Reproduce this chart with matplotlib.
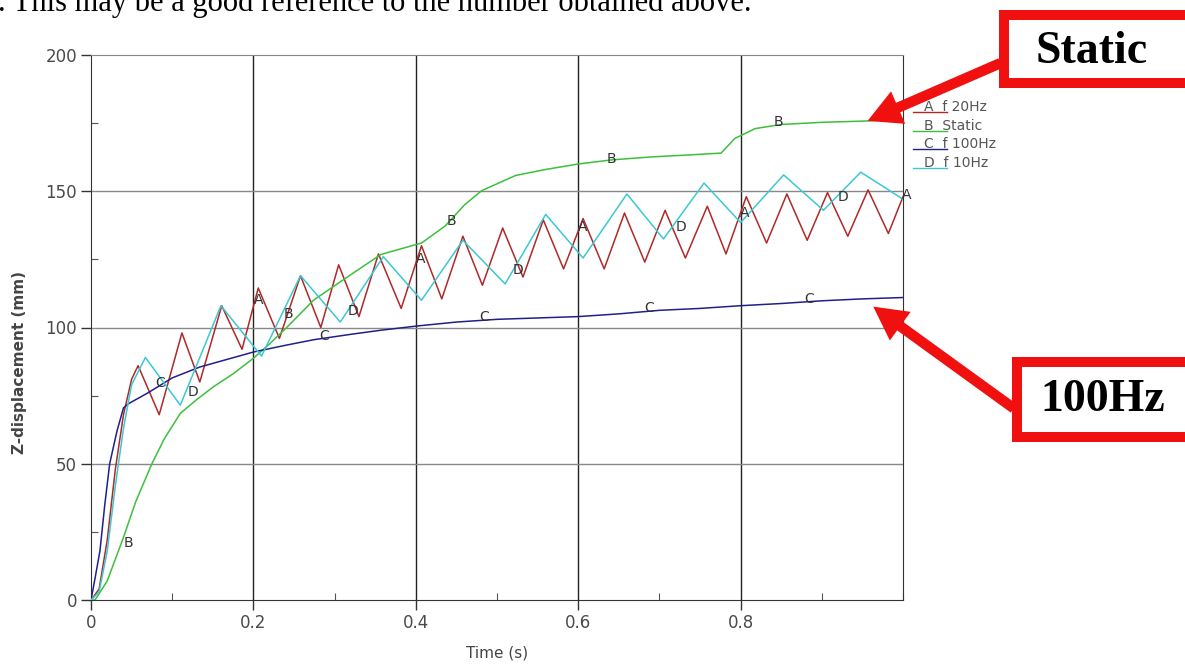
import matplotlib
matplotlib.use("Agg")
import matplotlib.pyplot as plt
from matplotlib.patches import Rectangle, FancyArrowPatch
from matplotlib.lines import Line2D
from matplotlib.ticker import MultipleLocator

# -----------------------------
# Data: Z-displacement (mm) vs time (s)
# -----------------------------
# A: f 20Hz
t_a = [0, 0.01, 0.02, 0.03, 0.04, 0.05, 0.058, 0.084, 0.112, 0.134, 0.161, 0.186,
       0.206, 0.232, 0.258, 0.283, 0.305, 0.33, 0.354, 0.382, 0.407, 0.432, 0.458,
       0.482, 0.507, 0.532, 0.557, 0.582, 0.606, 0.632, 0.657, 0.682, 0.707, 0.732,
       0.759, 0.782, 0.807, 0.832, 0.857, 0.882, 0.907, 0.932, 0.957, 0.982, 1.0]
z_a = [0, 4, 22, 48, 68, 81, 86, 68, 98, 80, 108, 92,
       114.5, 96, 119, 100, 123, 104, 127, 107, 130, 110.5, 133.5,
       115.5, 136.5, 118.5, 139.5, 121.5, 140, 121.5, 142, 124, 143, 125.5,
       144.5, 127, 148, 131, 149, 132, 149.5, 133.5, 150.5, 134.5, 148]

# B: Static
t_b = [0, 0.005, 0.02, 0.04, 0.055, 0.075, 0.09, 0.11, 0.13, 0.151, 0.175, 0.2,
       0.22, 0.242, 0.274, 0.316, 0.357, 0.407, 0.436, 0.46, 0.481, 0.523, 0.56,
       0.6, 0.641, 0.69, 0.735, 0.776, 0.793, 0.818, 0.85, 0.9, 0.957, 1.0]
z_b = [0, 0, 7, 23, 36, 50, 59, 68.5, 73.5, 78.3, 83, 88.7,
       94, 100.3, 110, 118.6, 126.8, 131, 137.2, 145, 150.2, 155.8, 158,
       160, 161.5, 162.6, 163.3, 164, 169.4, 173, 174.5, 175.3, 175.8, 176.5]

# C: f 100Hz
t_c = [0, 0.005, 0.011, 0.017, 0.023, 0.032, 0.04, 0.046, 0.07, 0.1, 0.134, 0.17,
       0.2, 0.24, 0.274, 0.32, 0.357, 0.4, 0.45, 0.5, 0.55, 0.6, 0.65, 0.7, 0.75,
       0.8, 0.85, 0.9, 0.95, 1.0]
z_c = [0, 8, 18, 35, 50, 62, 70.5, 72, 76, 81.5, 85.5, 88.5,
       91, 93.5, 95.5, 97.5, 99, 100.5, 102, 103, 103.5, 104, 105, 106.3, 107,
       108, 108.8, 109.8, 110.5, 111]

# D: f 10Hz
t_d = [0, 0.01, 0.02, 0.03, 0.04, 0.05, 0.067, 0.11, 0.16, 0.21, 0.258, 0.307,
       0.36, 0.407, 0.458, 0.51, 0.56, 0.606, 0.66, 0.705, 0.755, 0.80, 0.853,
       0.902, 0.948, 0.99, 1.0]
z_d = [0, 3, 18, 42, 63, 79, 89, 71.5, 108, 89.5, 119, 102,
       126, 110, 132, 116, 141.5, 125.5, 149, 132.5, 153, 138.5, 156,
       143, 157, 149, 147]

series_keys = ["A", "B", "C", "D"]
series_names = ["f 20Hz", "Static", "f 100Hz", "f 10Hz"]
series_colors = ["#b02828", "#3cc03c", "#20208a", "#3cc8d2"]

# curve letter markers (time, displacement)
marks = {
    "A": [(0.206, 110), (0.406, 125), (0.606, 137), (0.805, 142), (1.005, 148.5)],
    "B": [(0.046, 21), (0.243, 105), (0.444, 139), (0.641, 162), (0.847, 175.5)],
    "C": [(0.085, 79.5), (0.287, 97), (0.484, 104), (0.687, 107), (0.884, 110.5)],
    "D": [(0.126, 76.5), (0.323, 106), (0.526, 121), (0.726, 137), (0.926, 148)],
}

W, H = 1185, 671


def fx(px):
    return px / W


def fy(py):
    return 1 - py / H


fig = plt.figure(figsize=(W / 100, H / 100), dpi=100)
ax = fig.add_axes([fx(91), fy(600), fx(903) - fx(91), fy(55) - fy(600)])

curves = [(t_a, z_a), (t_b, z_b), (t_c, z_c), (t_d, z_d)]
for (t, z), c in zip(curves, series_colors):
    ax.plot(t, z, color=c, lw=1.1, zorder=3)

for key in series_keys:
    for (t, z) in marks[key]:
        ax.text(t, z, key, fontsize=10, color="#333333", ha="center", va="center",
                zorder=4, clip_on=False)

ax.set_xlim(0, 1.0)
ax.set_ylim(0, 200)
ax.set_xticks([0, 0.2, 0.4, 0.6, 0.8])
ax.set_xticklabels(["0", "0.2", "0.4", "0.6", "0.8"])
ax.set_yticks([0, 50, 100, 150, 200])
ax.xaxis.set_minor_locator(MultipleLocator(0.1))
ax.yaxis.set_minor_locator(MultipleLocator(25))

ax.tick_params(which="major", direction="out", length=7, width=1, color="#333333",
               labelsize=12, labelcolor="#4a4a4a", pad=3)
ax.tick_params(which="minor", direction="in", length=5, width=0.8, color="#555555")

for x in [0.2, 0.4, 0.6, 0.8]:
    ax.axvline(x, color="#222222", lw=1, zorder=1)
for y in [50, 100, 150]:
    ax.axhline(y, color="#888888", lw=1, zorder=1)

for side in ["left", "bottom", "right"]:
    ax.spines[side].set_color("#333333")
ax.spines["top"].set_color("#888888")

fig.text(fx(497), fy(653), "Time (s)", fontsize=11, color="#444444",
         ha="center", va="center")
fig.text(fx(20), fy(362), "Z-displacement (mm)", fontsize=11, fontweight="bold",
         color="#444444", rotation=90, ha="center", va="center")

# legend to the right of the plot
leg_y = [107, 126, 144, 163]
for key, name, c, py in zip(series_keys, series_names, series_colors, leg_y):
    fig.add_artist(Line2D([fx(913), fx(947)], [fy(py + 5), fy(py + 5)],
                          color=c, lw=1, transform=fig.transFigure))
    fig.text(fx(924), fy(py), f"{key}  {name}", fontsize=10, color="#555555",
             ha="left", va="center")

# sentence above the figure
fig.text(fx(-2), fy(11), ". This may be a good reference to the number obtained above.",
         fontsize=22, family="Liberation Serif", ha="left", va="baseline")

# callout boxes with arrows
red = "#f01010"
arrow_style = "simple,head_length=1.6,head_width=1.7,tail_width=0.5"
fig.add_artist(FancyArrowPatch((fx(1003), fy(62)), (fx(865), fy(122)),
                               transform=fig.transFigure, arrowstyle=arrow_style,
                               mutation_scale=15, color=red, lw=0, zorder=5))
fig.add_artist(FancyArrowPatch((fx(1016), fy(410)), (fx(871), fy(305)),
                               transform=fig.transFigure, arrowstyle=arrow_style,
                               mutation_scale=15, color=red, lw=0, zorder=5))

fig.add_artist(Rectangle((fx(1004), fy(83)), fx(200), fy(15) - fy(83),
                         transform=fig.transFigure, facecolor="white",
                         edgecolor=red, lw=7.2, zorder=6))
fig.add_artist(Rectangle((fx(1017), fy(437)), fx(200), fy(362) - fy(437),
                         transform=fig.transFigure, facecolor="white",
                         edgecolor=red, lw=7.2, zorder=6))
fig.text(fx(1092), fy(52), "Static", fontsize=33, fontweight="bold",
         family="Liberation Serif", ha="center", va="center", zorder=7)
fig.text(fx(1103), fy(400), "100Hz", fontsize=33, fontweight="bold",
         family="Liberation Serif", ha="center", va="center", zorder=7)

fig.savefig("out.png", dpi=100)
